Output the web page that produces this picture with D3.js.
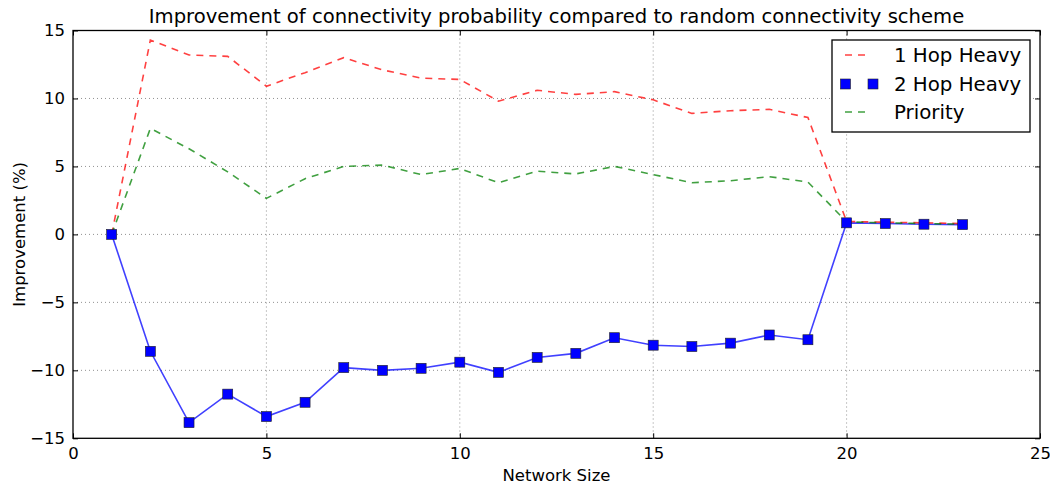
<!DOCTYPE html>
<html>
<head>
<meta charset="utf-8">
<script src="https://cdn.jsdelivr.net/npm/d3@7"></script>
<style>
  body { margin: 0; background: #fff; }
  svg text { font-family: "DejaVu Sans", sans-serif; fill: #000; }
</style>
</head>
<body>
<svg id="chart" width="1050" height="489"></svg>
<script>
/* data */
const networkSize = [1, 2, 3, 4, 5, 6, 7, 8, 9, 10, 11, 12, 13, 14, 15, 16, 17, 18, 19, 20, 21, 22, 23];
const oneHopHeavy = [0, 14.3, 13.2, 13.1, 10.9, 11.9, 13.0, 12.1, 11.5, 11.4, 9.8, 10.6, 10.3, 10.5, 9.9, 8.9, 9.1, 9.2, 8.6, 0.95, 0.9, 0.85, 0.8];
const twoHopHeavy = [0, -8.6, -13.85, -11.75, -13.4, -12.35, -9.8, -10.0, -9.85, -9.4, -10.15, -9.05, -8.75, -7.6, -8.15, -8.25, -8.0, -7.4, -7.75, 0.85, 0.8, 0.75, 0.72];
const priority = [0, 7.8, 6.3, 4.6, 2.65, 4.1, 5.0, 5.1, 4.4, 4.85, 3.8, 4.65, 4.45, 5.0, 4.4, 3.8, 3.95, 4.25, 3.85, 0.92, 0.85, 0.8, 0.75];
const xTicks = [0, 5, 10, 15, 20, 25];
const yTicks = [-15, -10, -5, 0, 5, 10, 15];
const legendLabels = ['1 Hop Heavy', '2 Hop Heavy', 'Priority'];

const svg = d3.select('#chart');
const pl = 73, pr = 1040, pt = 30.5, pb = 438.3;

const x = d3.scaleLinear().domain([0, 25]).range([pl, pr]);
const y = d3.scaleLinear().domain([-15, 15]).range([pb, pt]);

// Grid (dotted)
const grid = svg.append('g').attr('stroke', '#000').attr('stroke-opacity', 0.55)
  .attr('stroke-width', 0.8).attr('stroke-dasharray', '1,3');
grid.selectAll('line.gx').data(xTicks.slice(1, -1)).join('line').attr('class', 'gx')
  .attr('x1', d => x(d)).attr('x2', d => x(d)).attr('y1', pt).attr('y2', pb);
grid.selectAll('line.gy').data(yTicks.slice(1, -1)).join('line').attr('class', 'gy')
  .attr('y1', d => y(d)).attr('y2', d => y(d)).attr('x1', pl).attr('x2', pr);

// Axes: ticks pointing inward, on all four sides
const fmt = d => d < 0 ? '\u2212' + Math.abs(d) : String(d);
const axB = svg.append('g').attr('transform', `translate(0,${pb})`)
  .call(d3.axisBottom(x).tickValues(xTicks).tickSizeInner(-5).tickSizeOuter(0).tickPadding(9).tickFormat(fmt));
const axT = svg.append('g').attr('transform', `translate(0,${pt})`)
  .call(d3.axisTop(x).tickValues(xTicks).tickSizeInner(-5).tickSizeOuter(0).tickFormat(''));
const axL = svg.append('g').attr('transform', `translate(${pl},0)`)
  .call(d3.axisLeft(y).tickValues(yTicks).tickSizeInner(-5).tickSizeOuter(0).tickPadding(8).tickFormat(fmt));
const axR = svg.append('g').attr('transform', `translate(${pr},0)`)
  .call(d3.axisRight(y).tickValues(yTicks).tickSizeInner(-5).tickSizeOuter(0).tickFormat(''));
[axB, axT, axL, axR].forEach(a => {
  a.select('.domain').remove();
  a.selectAll('.tick line').attr('stroke', '#000').attr('stroke-width', 1);
  a.selectAll('.tick text').attr('font-size', 16.5).attr('font-family', '"DejaVu Sans", sans-serif').attr('fill', '#000');
});

// Series lines
const line = d3.line().x((d, i) => x(networkSize[i])).y(d => y(d));

svg.append('path').datum(twoHopHeavy).attr('d', line)
  .attr('fill', 'none').attr('stroke', '#0000ff').attr('stroke-opacity', 0.75).attr('stroke-width', 1.6);
svg.append('path').datum(oneHopHeavy).attr('d', line)
  .attr('fill', 'none').attr('stroke', '#ff0000').attr('stroke-opacity', 0.75).attr('stroke-width', 1.6)
  .attr('stroke-dasharray', '7,6');
svg.append('path').datum(priority).attr('d', line)
  .attr('fill', 'none').attr('stroke', '#008000').attr('stroke-opacity', 0.75).attr('stroke-width', 1.6)
  .attr('stroke-dasharray', '7,6');

svg.append('g').selectAll('rect').data(twoHopHeavy).join('rect')
  .attr('x', (d, i) => x(networkSize[i]) - 5).attr('y', d => y(d) - 5)
  .attr('width', 10).attr('height', 10)
  .attr('fill', '#0000ff').attr('stroke', '#222').attr('stroke-width', 0.6);

// Frame
svg.append('rect').attr('x', pl).attr('y', pt).attr('width', pr - pl).attr('height', pb - pt)
  .attr('fill', 'none').attr('stroke', '#000').attr('stroke-width', 1.3);

// Title & axis labels
svg.append('text').attr('x', (pl + pr) / 2).attr('y', 23).attr('text-anchor', 'middle')
  .attr('font-size', 19.6).text('Improvement of connectivity probability compared to random connectivity scheme');
svg.append('text').attr('x', (pl + pr) / 2).attr('y', 481).attr('text-anchor', 'middle')
  .attr('font-size', 16.5).text('Network Size');
svg.append('text').attr('transform', `translate(25,${(pt + pb) / 2}) rotate(-90)`)
  .attr('text-anchor', 'middle').attr('font-size', 16.5).text('Improvement (%)');

// Legend
const lg = svg.append('g');
lg.append('rect').attr('x', 832).attr('y', 40).attr('width', 198).attr('height', 92)
  .attr('fill', '#fff').attr('stroke', '#000').attr('stroke-width', 1.3);
const rowsY = [55, 84, 112];
lg.append('line').attr('x1', 845).attr('x2', 871).attr('y1', rowsY[0]).attr('y2', rowsY[0])
  .attr('stroke', '#ff0000').attr('stroke-opacity', 0.75).attr('stroke-width', 1.6).attr('stroke-dasharray', '7,6');
lg.selectAll('rect.mk').data([845.5, 873]).join('rect').attr('class', 'mk')
  .attr('x', d => d - 5).attr('y', rowsY[1] - 5).attr('width', 10).attr('height', 10)
  .attr('fill', '#0000ff').attr('stroke', '#222').attr('stroke-width', 0.6);
lg.append('line').attr('x1', 845).attr('x2', 871).attr('y1', rowsY[2]).attr('y2', rowsY[2])
  .attr('stroke', '#008000').attr('stroke-opacity', 0.75).attr('stroke-width', 1.6).attr('stroke-dasharray', '7,6');
lg.selectAll('text').data(legendLabels).join('text')
  .attr('x', 894).attr('y', (d, i) => rowsY[i]).attr('dy', '0.35em')
  .attr('font-size', 19.8).text(d => d);
</script>
</body>
</html>
